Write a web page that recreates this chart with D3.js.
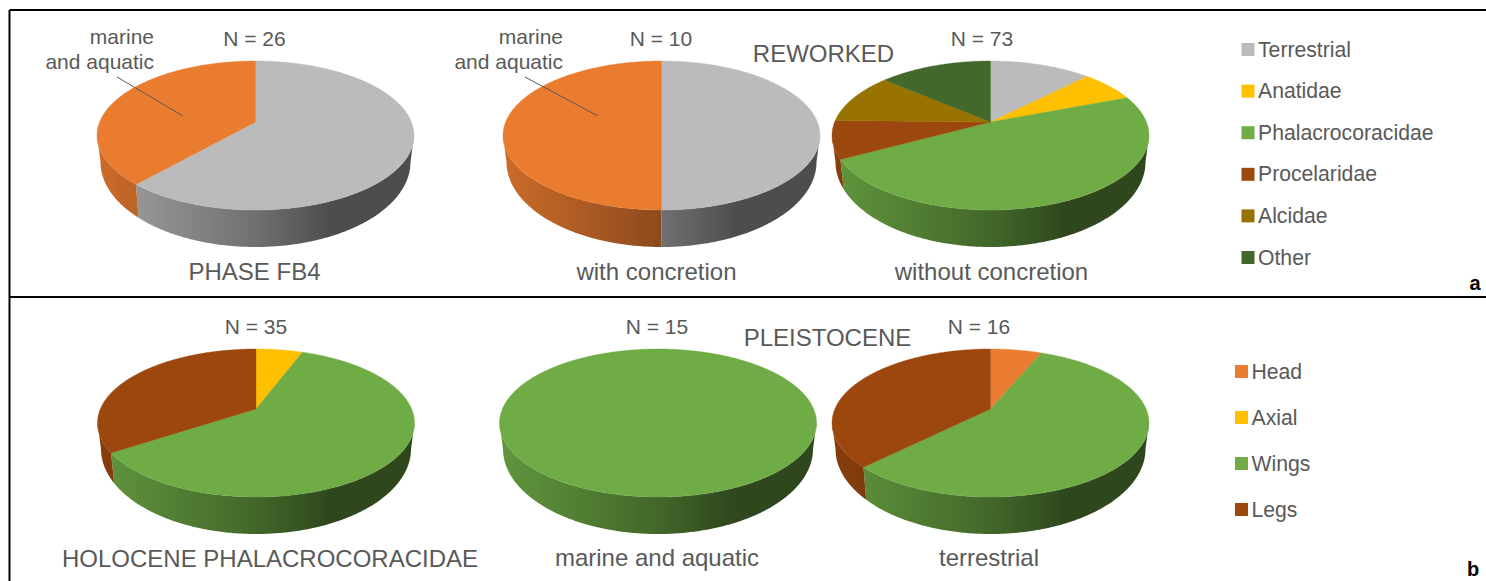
<!DOCTYPE html>
<html><head><meta charset="utf-8">
<script src="https://cdnjs.cloudflare.com/ajax/libs/d3/7.8.5/d3.min.js"></script>
<style>html,body{margin:0;padding:0;background:#fff}svg{display:block}text{font-family:"Liberation Sans",Arial,sans-serif}</style>
</head><body><svg id="c" width="1486" height="581"></svg>
<script>
// ---- data
const taxaCategories = ["Terrestrial","Anatidae","Phalacrocoracidae","Procelaridae","Alcidae","Other"];
const phaseFB4 = [16,0,0,0,0,0];
const phaseFB4Marine = 10;
const reworkedWith = [5,0,0,0,0,0];
const reworkedWithMarine = 5;
const reworkedWithout = [9,5,35,6,8,10];
const partCategories = ["Head","Axial","Wings","Legs"];
const holocenePhal = [0,2,21,12];
const pleistoMarine = [0,0,15,0];
const pleistoTerrestrial = [1,0,9,6];
const taxaColors = ["#bbbbbb","#ffc000","#6fac46","#9c470e","#997300","#43682b"];
const partColors = ["#ea7d32","#ffc000","#6fac46","#9c470e"];
const marineColor = "#ea7c30";

// ---- layout
const svg = d3.select("#c");
const defs = svg.append("defs");
const ink = "#595959";
const pieAngle = d3.pie().sort(null).value(d=>d.v).startAngle(0).endAngle(2*Math.PI);
const halfW = 158.5, baseHalfW = 155, baseHalfH = 85;
let gid = 0;

function drawPie(cx, apexY, topY, botY, baseY, slices){
  const up = apexY-topY, dn = botY-apexY;
  const k = (dn-up)/(dn+up), p = up*(1+k), a = halfW*Math.sqrt(1-k*k);
  const topMid = (dn-up)/2, topHalfH = (dn+up)/2;
  const baseMid = (baseY-apexY)-baseHalfH;
  const proj = (t,base)=>{
    const u=Math.sin(t), v=-Math.cos(t), w=1-k*v;
    const X=a*u/w, Y=p*v/w;
    return base
      ? [cx+X*baseHalfW/halfW, apexY+baseMid+(Y-topMid)*baseHalfH/topHalfH]
      : [cx+X, apexY+Y];
  };
  const tR = Math.acos(-k), tL = 2*Math.PI-tR;
  const arcs = pieAngle(slices).filter(d=>d.data.v>0);
  const sample = (a0,a1,base)=>{
    const n=Math.max(2,Math.ceil((a1-a0)/0.01));
    return d3.range(n+1).map(i=>proj(a0+(a1-a0)*i/n,base));
  };
  const line = d3.line();
  const g = svg.append("g");
  // side wall
  arcs.forEach(d=>{
    const a0=Math.max(d.startAngle,tR), a1=Math.min(d.endAngle,tL);
    if(a1<=a0) return;
    const id="g"+(gid++), col=d3.rgb(d.data.c);
    const shade=f=>d3.rgb(col.r*f,col.g*f,col.b*f).formatHex();
    const gr=defs.append("linearGradient").attr("id",id).attr("gradientUnits","userSpaceOnUse")
      .attr("x1",cx-halfW).attr("x2",cx+halfW).attr("y1",0).attr("y2",0);
    [[0,.87],[.5,.6],[.74,.41],[1,.41]].forEach(([o,f])=>gr.append("stop").attr("offset",o).attr("stop-color",shade(f)));
    const pts=sample(a0,a1,false).concat(sample(a0,a1,true).reverse());
    g.append("path").attr("d",line(pts)+"Z").attr("fill",`url(#${id})`);
  });
  // top face
  arcs.forEach(d=>{
    const full = d.endAngle-d.startAngle>=2*Math.PI-1e-6;
    const pts = full ? sample(d.startAngle,d.endAngle,false) : [[cx,apexY]].concat(sample(d.startAngle,d.endAngle,false));
    g.append("path").attr("d",line(pts)+"Z").attr("fill",d.data.c).attr("stroke",d.data.c).attr("stroke-width",.4);
  });
}
const mk=(vals,cols)=>vals.map((v,i)=>({v,c:cols[i]}));

drawPie(255.5,122,61,210,247,[...mk(phaseFB4,taxaColors),{v:phaseFB4Marine,c:marineColor}]);
drawPie(661.5,122,61,210,247,[...mk(reworkedWith,taxaColors),{v:reworkedWithMarine,c:marineColor}]);
drawPie(990.5,122,61,210,247,mk(reworkedWithout,taxaColors));
drawPie(256,409,349,497,534,mk(holocenePhal,partColors));
drawPie(658,409,349,497,534,mk(pleistoMarine,partColors));
drawPie(990.5,409,349,497,534,mk(pleistoTerrestrial,partColors));

// ---- frame
const frame=[[9.5,581,9.5,10],[9.5,10,1486,10],[9.5,297,1486,297]];
svg.selectAll("line.f").data(frame).join("line").attr("class","f")
  .attr("x1",d=>d[0]).attr("y1",d=>d[1]).attr("x2",d=>d[2]).attr("y2",d=>d[3])
  .attr("stroke","#000").attr("stroke-width",2);

// ---- leaders
svg.selectAll("line.l").data([[117,77,183,116],[525,77,598,116]]).join("line").attr("class","l")
  .attr("x1",d=>d[0]).attr("y1",d=>d[1]).attr("x2",d=>d[2]).attr("y2",d=>d[3])
  .attr("stroke",ink).attr("stroke-width",1);

// ---- labels
const labels=[
 ["marine",154,43.5,"end",21],["and aquatic",154,69,"end",21],["N = 26",254.5,46,"middle",21],["PHASE FB4",254.5,280,"middle",24],
 ["marine",563,43.5,"end",21],["and aquatic",563,69,"end",21],["N = 10",661,46,"middle",21],["with concretion",656.5,280,"middle",24],
 ["REWORKED",823.5,62,"middle",24],["N = 73",982,46,"middle",21],["without concretion",991.5,280,"middle",24],
 ["N = 35",256,334,"middle",21],["HOLOCENE PHALACROCORACIDAE",270,567,"middle",24],
 ["N = 15",657,334,"middle",21],["marine and aquatic",657,566,"middle",24],
 ["PLEISTOCENE",827.5,346,"middle",24],["N = 16",979,334,"middle",21],["terrestrial",989,566,"middle",24]];
svg.selectAll("text.t").data(labels).join("text").attr("class","t")
  .attr("x",d=>d[1]).attr("y",d=>d[2]).attr("text-anchor",d=>d[3])
  .attr("font-size",d=>d[4]).attr("fill",ink).text(d=>d[0]);

// ---- legends
function legend(cats,cols,x,y0,y1){
  const y=d3.scalePoint().domain(cats).range([y0,y1]);
  const g=svg.append("g").selectAll("g").data(cats).join("g").attr("transform",d=>`translate(${x},${y(d)})`);
  g.append("rect").attr("x",0).attr("y",-6.5).attr("width",13).attr("height",13).attr("fill",(d,i)=>cols[i]);
  g.append("text").attr("x",16.5).attr("y",7).attr("font-size",21.2).attr("fill",ink).text(d=>d);
}
legend(taxaCategories,taxaColors,1241.5,49.5,257.5);
legend(partCategories,partColors,1235,371.5,509.5);

// ---- panel letters
svg.selectAll("text.p").data([["a",1475,290],["b",1473,576]]).join("text").attr("class","p")
  .attr("x",d=>d[1]).attr("y",d=>d[2]).attr("text-anchor","middle").attr("font-weight","bold")
  .attr("font-size",20).attr("fill","#000").text(d=>d[0]);
</script></body></html>
